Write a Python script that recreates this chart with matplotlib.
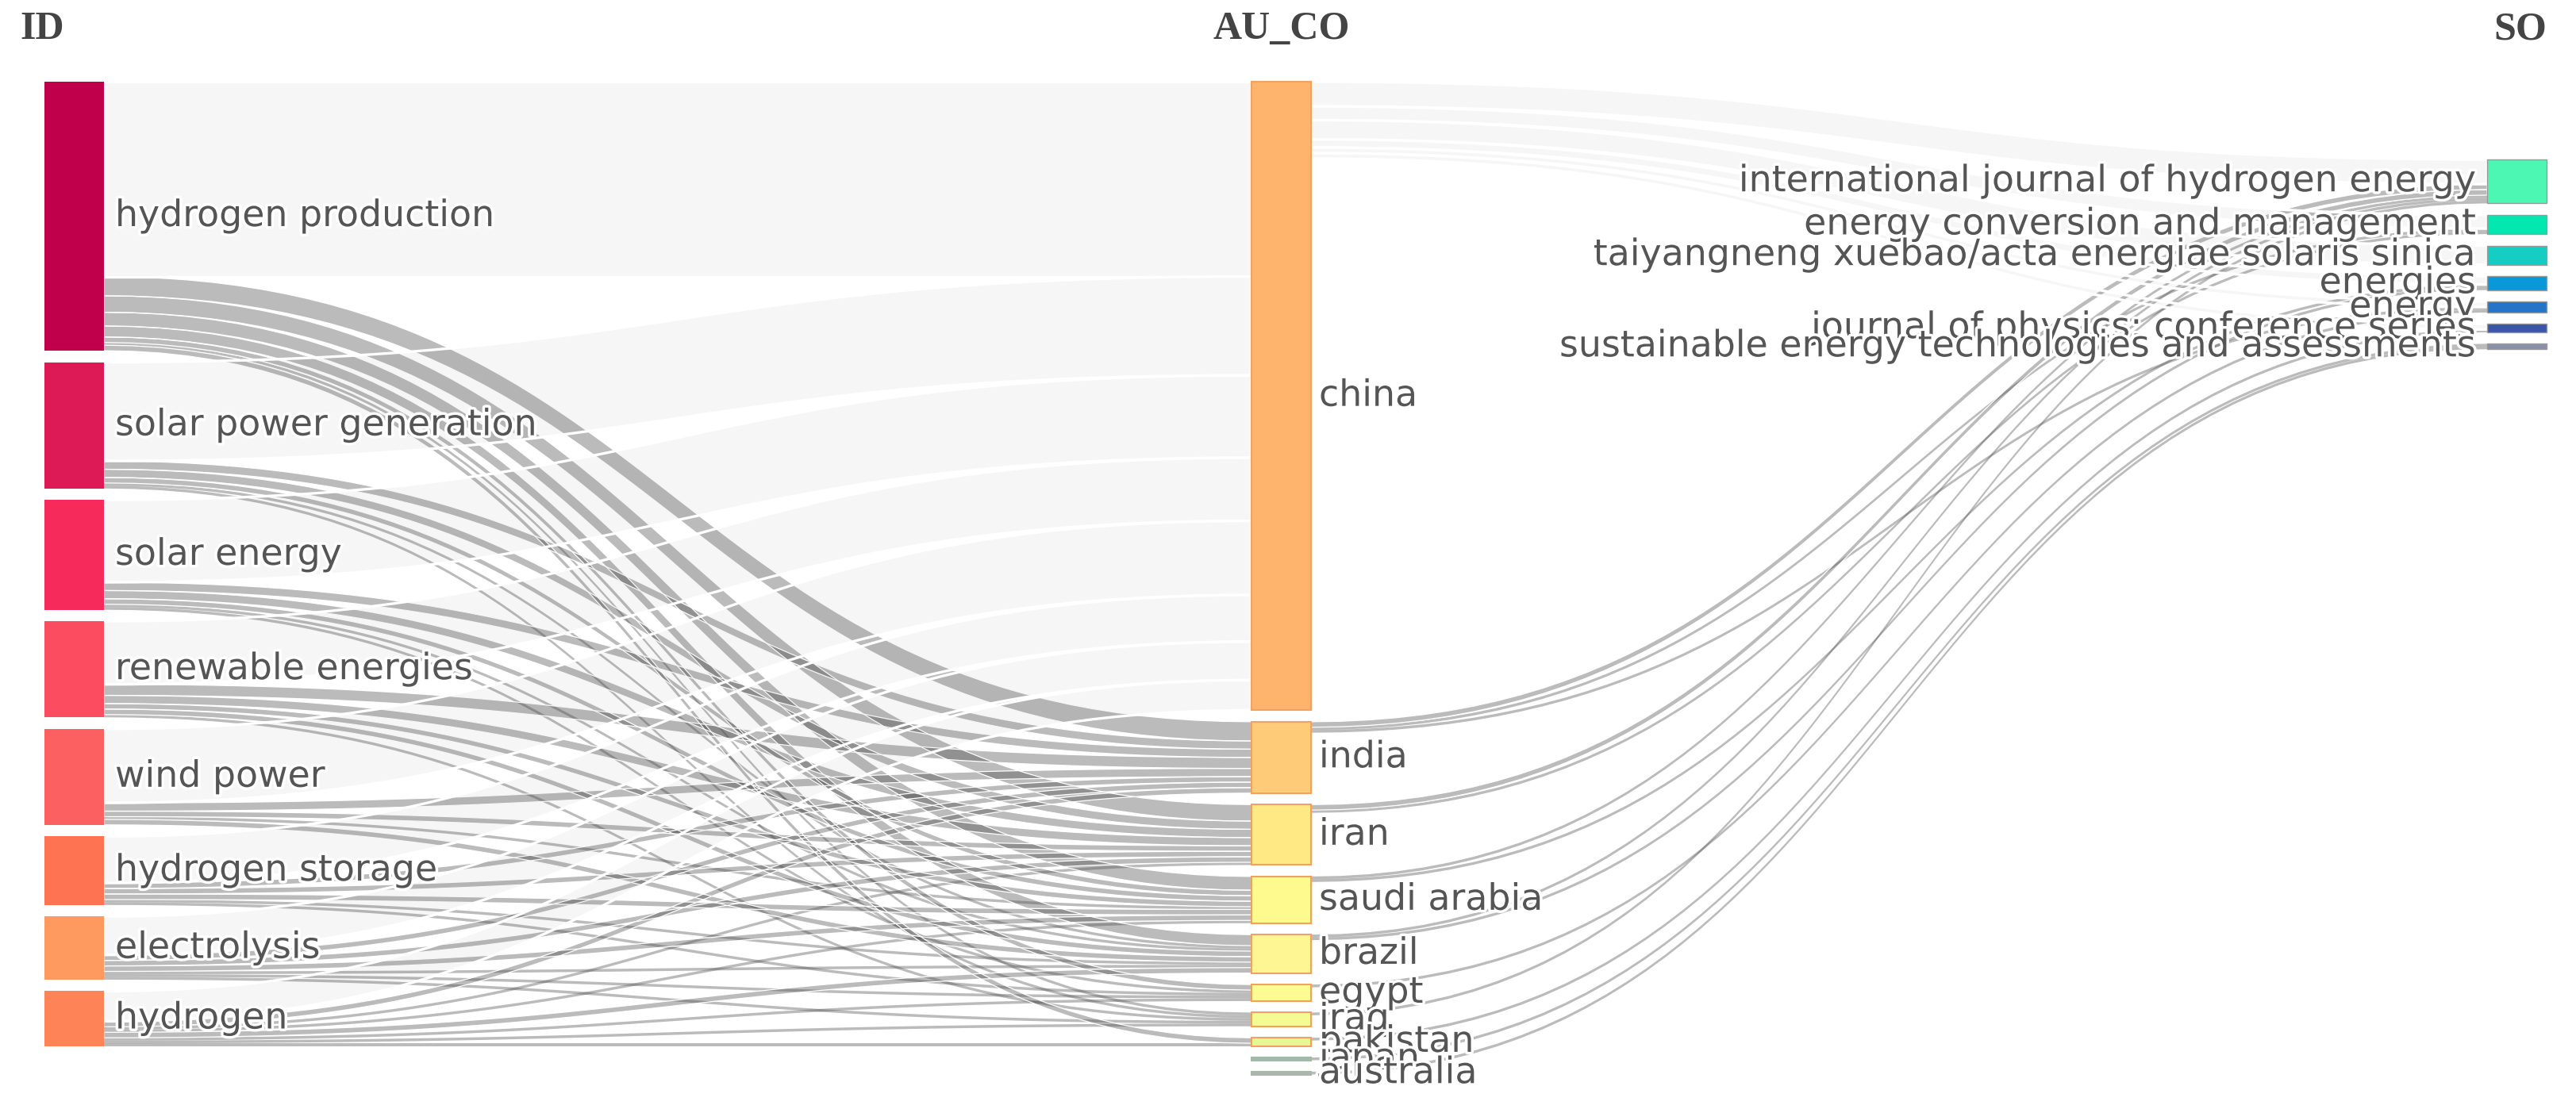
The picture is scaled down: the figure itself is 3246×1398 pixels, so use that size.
import numpy as np
import matplotlib.pyplot as plt
from matplotlib.patches import Polygon, Rectangle
import matplotlib.patheffects as pe

# ---- data ----
id_terms = ["hydrogen production", "solar power generation", "solar energy",
            "renewable energies", "wind power", "hydrogen storage",
            "electrolysis", "hydrogen"]
countries = ["china", "india", "iran", "saudi arabia", "brazil", "egypt",
             "iraq", "pakistan", "japan", "australia"]
sources = ["international journal of hydrogen energy",
           "energy conversion and management",
           "taiyangneng xuebao/acta energiae solaris sinica",
           "energies", "energy",
           "journal of physics: conference series",
           "sustainable energy technologies and assessments"]

# keyword -> country (rows: id_terms, cols: countries)
id_to_country = np.array([
    [71, 7, 6, 5, 4, 2, 1, 2, 0, 0],
    [36, 3, 3, 2, 1, 0, 1, 0, 0, 0],
    [30, 3, 3, 2, 1, 1, 0, 0, 0, 0],
    [23, 4, 3, 2, 2, 0, 1, 0, 0, 0],
    [27, 3, 2, 1, 2, 0, 0, 0, 0, 0],
    [17, 2, 2, 2, 1, 1, 0, 0, 0, 0],
    [14, 2, 2, 2, 1, 1, 1, 0, 0, 0],
    [11, 2, 1, 1, 2, 1, 1, 1, 0, 0],
])

# country -> journal (rows: countries, cols: sources)
country_to_source = np.array([
    [9, 5, 7, 3, 2, 2, 0],
    [2, 1, 0, 0, 1, 0, 0],
    [2, 1, 0, 0, 0, 0, 0],
    [1, 0, 0, 1, 0, 0, 0],
    [1, 0, 0, 1, 0, 0, 0],
    [0, 0, 0, 0, 1, 0, 0],
    [1, 0, 0, 0, 0, 0, 0],
    [0, 0, 0, 0, 0, 1, 0],
    [0, 0, 0, 0, 0, 0, 1],
    [0, 0, 0, 0, 0, 0, 1],
])

id_colors = ["#c0004a", "#dd1a55", "#f72a5c", "#fb4c60", "#fd6060",
             "#fe7352", "#fe9a60", "#fe8356"]
country_colors = ["#feb46c", "#fecc78", "#fee985", "#fefa8e", "#fef692",
                  "#fdfc92", "#f4fb93", "#e6f893", "#a2b8a8", "#a9b7ad"]
source_colors = ["#4cf7b4", "#00e8b0", "#16cdc4", "#0a98d8", "#2475c8",
                 "#3b55a8", "#8a90a8"]

# ---- layout ----
W, H = 3246, 1398
ky = 3.46          # pixels per document
pad = 14.5         # gap between nodes
node_w = 75
col_x = [56, 1577, 3134]
col_top = [103, 103, 201]


def stack(values, top):
    y0 = []
    y = top
    for v in values:
        y0.append(y)
        y += v * ky + pad
    return np.array(y0)


val_id = id_to_country.sum(axis=1)
val_co = np.maximum(id_to_country.sum(axis=0), country_to_source.sum(axis=1))
val_so = country_to_source.sum(axis=0)

y_id = stack(val_id, col_top[0])
y_co = stack(val_co, col_top[1])
y_so = stack(val_so, col_top[2])


def ribbon(x0, x1, s0, s1, t0, t1, n=60):
    t = np.linspace(0, 1, n)
    xm = (x0 + x1) / 2
    bx = (1 - t) ** 3 * x0 + 3 * (1 - t) ** 2 * t * xm + 3 * (1 - t) * t ** 2 * xm + t ** 3 * x1
    w = 3 * (1 - t) * t ** 2 + t ** 3
    top = s0 + (t0 - s0) * w
    bot = s1 + (t1 - s1) * w
    return np.vstack([np.column_stack([bx, top]), np.column_stack([bx[::-1], bot[::-1]])])


def links(mat, ys_src, ys_tgt, xs, xt, light_src=None, light_tgt=None):
    out_off = ys_src.copy()
    in_off = ys_tgt.copy()
    dark, light = [], []
    for i in range(mat.shape[0]):
        for j in range(mat.shape[1]):
            v = mat[i, j]
            if v <= 0:
                continue
            h = v * ky
            poly = ribbon(xs, xt, out_off[i], out_off[i] + h, in_off[j], in_off[j] + h)
            out_off[i] += h
            in_off[j] += h
            if i == light_src or j == light_tgt:
                light.append(poly)
            else:
                dark.append((poly, v))
    return dark, light


fig = plt.figure(figsize=(W / 100, H / 100), dpi=100)
ax = fig.add_axes([0, 0, 1, 1])
ax.set_xlim(0, W)
ax.set_ylim(H, 0)
ax.axis("off")

d1, l1 = links(id_to_country, y_id, y_co, col_x[0] + node_w, col_x[1], light_tgt=0)
d2, l2 = links(country_to_source, y_co, y_so, col_x[1] + node_w, col_x[2], light_src=0)

for poly, v in d1 + d2:
    ax.add_patch(Polygon(poly, closed=True, facecolor="#4d4d4d", alpha=0.38,
                         edgecolor="none", zorder=1))
    if v > 1:
        # thin white seam between neighbouring links
        ax.add_patch(Polygon(poly, closed=True, facecolor="none",
                             edgecolor="white", lw=0.9, zorder=1.5))
for poly in l1 + l2:
    ax.add_patch(Polygon(poly, closed=True, facecolor=(0, 0, 0, 0.035),
                         edgecolor="white", lw=2.4, zorder=2))

halo = [pe.withStroke(linewidth=5, foreground="white")]
label_kw = dict(fontsize=33, color="#555555", va="center", zorder=5,
                family="DejaVu Sans", path_effects=halo)

# nodes: keywords
for name, y0, v, c in zip(id_terms, y_id, val_id, id_colors):
    ax.add_patch(Rectangle((col_x[0], y0), node_w, v * ky, facecolor=c,
                           edgecolor="none", zorder=3))
    ax.text(col_x[0] + node_w + 14, y0 + v * ky / 2, name, ha="left", **label_kw)

# nodes: countries
for name, y0, v, c in zip(countries, y_co, val_co, country_colors):
    ec = "#f3a163" if v > 2 else c
    ax.add_patch(Rectangle((col_x[1], y0), node_w, v * ky, facecolor=c,
                           edgecolor=ec, lw=1.5, zorder=3))
    ax.text(col_x[1] + node_w + 10, y0 + v * ky / 2, name, ha="left", **label_kw)

# nodes: journals
for name, y0, v, c in zip(sources, y_so, val_so, source_colors):
    ax.add_patch(Rectangle((col_x[2], y0), node_w, v * ky, facecolor=c,
                           edgecolor="#9a9a9a", lw=1, zorder=3))
    ax.text(col_x[2] - 14, y0 + v * ky / 2, name, ha="right", **label_kw)

# column headers
head_kw = dict(fontsize=36, color="#444444", va="center", family="Liberation Serif",
               fontweight="bold")
ax.text(25, 37, "ID", ha="left", **head_kw)
ax.text(col_x[1] + node_w / 2, 37, "AU_CO", ha="center", **head_kw)
ax.text(col_x[2] + node_w, 37, "SO", ha="right", **head_kw)

fig.savefig("out.png", dpi=100, facecolor="white")
